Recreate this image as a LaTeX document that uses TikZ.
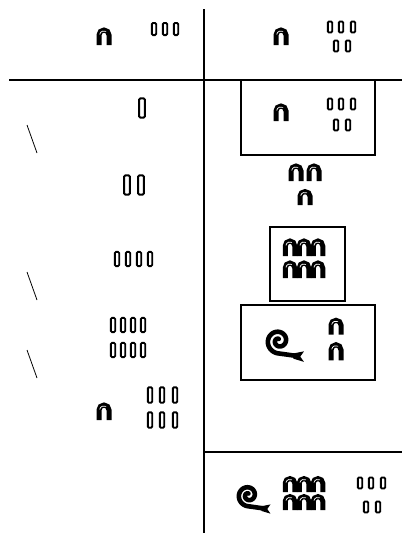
\documentclass[tikz,border=0pt]{standalone}
\begin{document}
\begin{tikzpicture}[x=1pt,y=-1pt,
  rule/.style={line width=2.6pt},
  thinrule/.style={line width=2pt},
  frame/.style={line width=1.8pt},
  tick/.style={line width=0.8pt},
  % hieroglyphic numerals
  numten/.pic={
    \draw[line width=5pt] (-5,9) -- (-5,-1) arc[start angle=180,end angle=360,radius=5] -- (5,9);
    \draw[white,line width=0.7pt] (-4.3,-1.6) arc[start angle=190,end angle=300,radius=4.3];
  },
  numone/.pic={
    \draw[line width=1.9pt,fill=white,rounded corners=1.2pt] (-2.2,-5.5) rectangle (2.2,5.5);
  },
  numhundred/.pic={
    \draw[line width=4.6pt,line cap=round]
      plot[smooth,domain=0:540,samples=80]
        ({-5+(1.8+\x/53)*cos(630-\x)},{-3+(1.8+\x/53)*sin(630-\x)})
      -- (13,11.5);
    \fill (9,9) -- (19,7) -- (15.5,12) -- (19,17) -- (9,14) -- cycle;
  }
]
\useasboundingbox (0,0) rectangle (402,533);

% table rules
\draw[rule] (204,9) -- (204,533);
\draw[thinrule] (9,80) -- (402,80);
\draw[thinrule] (204,452) -- (402,452);

% frames round the chosen rows
\draw[frame] (241,80) rectangle (375,155);
\draw[frame] (270,227) rectangle (345,301);
\draw[frame] (241,305) rectangle (375,380);

% check marks on the left
\draw[tick] (27,125) -- (37,153);
\draw[tick] (27,272) -- (37,300);
\draw[tick] (27,350) -- (37,378);

% header row
\pic (hlten) at (104,36) {numten};
\foreach \x in {154,165,176} \pic at (\x,29) [yscale=1.1] {numone};
\pic (hrten) at (281,36) {numten};
\foreach \x in {330,341,353} \pic at (\x,27) {numone};
\foreach \x in {336,348} \pic at (\x,46) {numone};

% row 1
\pic (aone) at (142,108) [xscale=1.3,yscale=1.75] {numone};
\pic (aten) at (281,112) {numten};
\foreach \x in {330,341,353} \pic at (\x,104) {numone};
\foreach \x in {336,348} \pic at (\x,125) {numone};

% row 2
\foreach \x in {127,141} \pic at (\x,185) [xscale=1.3,yscale=1.75] {numone};
\pic (bten1) at (296,172) {numten};
\pic (bten2) at (314,172) {numten};
\pic (bten3) at (305,197) [yscale=0.9] {numten};

% row 4
\foreach \x in {117,128,139,150} \pic at (\x,259) [yscale=1.3] {numone};
\foreach \y in {247,269}
  \foreach \x in {290,304,318} \pic at (\x,\y) [xscale=0.95] {numten};

% row 8
\foreach \y in {325,350}
  \foreach \x in {113,123,133,143} \pic at (\x,\y) [yscale=1.3] {numone};
\pic (dhun) at (284,344) [scale=1.05] {numhundred};
\pic (dten1) at (336,326) [yscale=0.95] {numten};
\pic (dten2) at (336,351) [yscale=1.05] {numten};

% sum on the left
\pic (eten) at (104,411) {numten};
\foreach \y in {395,420}
  \foreach \x in {150,162,175} \pic at (\x,\y) [yscale=1.4] {numone};

% result
\pic (rhun) at (253,498) [scale=0.92] {numhundred};
\foreach \y in {484,502}
  \foreach \x in {290,304,318} \pic at (\x,\y) [xscale=0.95,yscale=0.9] {numten};
\foreach \x in {360,371,383} \pic at (\x,483) {numone};
\foreach \x in {366,378} \pic at (\x,507) {numone};
\end{tikzpicture}
\end{document}
